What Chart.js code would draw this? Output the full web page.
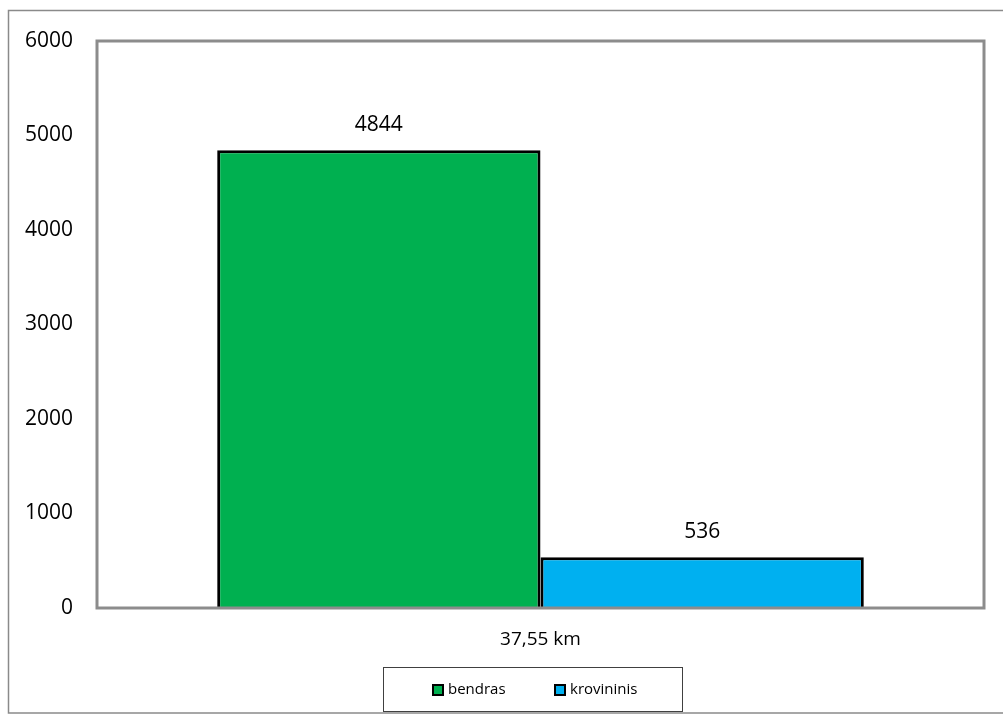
<!DOCTYPE html>
<html>
<head>
<meta charset="utf-8">
<script src="https://cdn.jsdelivr.net/npm/chart.js@4"></script>
<style>
  html, body { margin: 0; padding: 0; background: #fff; }
  #wrap { width: 1003px; height: 715px; }
</style>
</head>
<body>
<div id="wrap"><canvas id="distChart" width="1003" height="715"></canvas></div>
<script>
// data
const categories = ['37,55 km'];
const seriesNames = ['bendras', 'krovininis'];
const bendrasValues = [4844];
const krovininisValues = [536];
const seriesColors = ['#00B050', '#00B0F0'];
const yTicks = [0, 1000, 2000, 3000, 4000, 5000, 6000];

const FONT = '"Open Sans", "Liberation Sans", sans-serif';

// frames, value labels and legend box, Excel style
const excelDecor = {
    id: 'excelDecor',
    afterDatasetsDraw(chart) {
        const ctx = chart.ctx;
        ctx.save();
        ctx.fillStyle = '#000';
        ctx.font = '21px ' + FONT;
        ctx.textAlign = 'center';
        ctx.textBaseline = 'middle';
        chart.data.datasets.forEach((ds, i) => {
            chart.getDatasetMeta(i).data.forEach((bar, j) => {
                ctx.fillText(String(ds.data[j]), bar.x, bar.y - 25);
            });
        });
        ctx.restore();
    },
    afterDraw(chart) {
        const ctx = chart.ctx;
        const a = chart.chartArea;
        ctx.save();
        // outer border
        ctx.strokeStyle = '#8a8a8a';
        ctx.lineWidth = 1.5;
        ctx.strokeRect(8.5, 10.5, 1010, 702.5);
        // plot area border
        ctx.lineWidth = 3;
        ctx.strokeStyle = '#8c8c8c';
        ctx.strokeRect(a.left, a.top, a.right - a.left, a.bottom - a.top);

        // legend
        ctx.lineWidth = 1;
        ctx.strokeStyle = '#404040';
        ctx.strokeRect(383.5, 667.5, 299, 44);
        ctx.font = '15px ' + FONT;
        ctx.textBaseline = 'middle';
        ctx.textAlign = 'left';
        const itemX = [433, 555];
        seriesNames.forEach((name, i) => {
            ctx.fillStyle = seriesColors[i];
            ctx.fillRect(itemX[i], 685, 10, 10);
            ctx.lineWidth = 2;
            ctx.strokeStyle = '#000';
            ctx.strokeRect(itemX[i], 685, 10, 10);
            ctx.fillStyle = '#000';
            ctx.fillText(name, itemX[i] + 15, 690);
        });
        ctx.restore();
    }
};

const ctx = document.getElementById('distChart');
new Chart(ctx, {
    type: 'bar',
    data: {
        labels: categories,
        datasets: [
            {
                label: seriesNames[0],
                data: bendrasValues,
                backgroundColor: seriesColors[0],
                borderColor: '#000',
                borderWidth: 3,
                borderSkipped: 'bottom'
            },
            {
                label: seriesNames[1],
                data: krovininisValues,
                backgroundColor: seriesColors[1],
                borderColor: '#000',
                borderWidth: 3,
                borderSkipped: 'bottom'
            }
        ]
    },
    options: {
        responsive: false,
        animation: false,
        devicePixelRatio: 1,
        layout: {
            padding: { left: 0, top: 41, right: 19, bottom: 0 }
        },
        plugins: {
            legend: { display: false },
            tooltip: { enabled: false }
        },
        datasets: {
            bar: {
                barPercentage: 1,
                categoryPercentage: 0.729
            }
        },
        scales: {
            x: {
                grid: { display: false, drawTicks: false },
                border: { display: false },
                ticks: {
                    color: '#000',
                    font: { family: FONT, size: 19 },
                    padding: 20
                },
                afterFit(scale) { scale.height = 107; }
            },
            y: {
                min: 0,
                max: 6000,
                afterBuildTicks(scale) {
                    scale.ticks = yTicks.map(v => ({ value: v }));
                },
                grid: { display: false, drawTicks: false },
                border: { display: false },
                ticks: {
                    color: '#000',
                    font: { family: FONT, size: 21 },
                    padding: 24,
                    callback: v => String(v)
                },
                afterFit(scale) { scale.width = 97; }
            }
        }
    },
    plugins: [excelDecor]
});
</script>
</body>
</html>
